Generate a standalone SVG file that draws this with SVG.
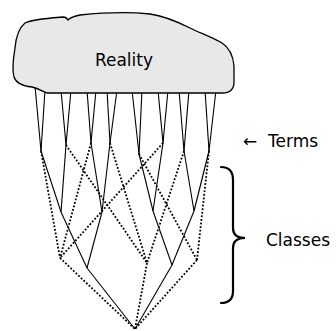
<svg xmlns="http://www.w3.org/2000/svg" width="336" height="331" viewBox="0 0 336 331">
<style>
.s{stroke:#000;stroke-width:1.1;fill:none}
.d{stroke:#000;stroke-width:1.8;fill:none;stroke-dasharray:1.8 1.8}
.t{font-family:"DejaVu Sans",Verdana,sans-serif;font-size:17px;fill:#000}
.cloud{fill:#e8e8e8;stroke:#000;stroke-width:1.3}
.brace{fill:none;stroke:#000;stroke-width:2.2;stroke-linecap:round}
</style>
<g id="connectors">
<g id="term-lines" class="s">
<line x1="35" y1="86" x2="41" y2="151"/><line x1="45" y1="90" x2="41" y2="151"/>
<line x1="61" y1="90" x2="66" y2="145"/><line x1="71" y1="90" x2="66" y2="145"/>
<line x1="87" y1="90" x2="91" y2="143"/><line x1="96" y1="90" x2="91" y2="143"/>
<line x1="107" y1="90" x2="110" y2="143"/><line x1="117" y1="90" x2="110" y2="143"/>
<line x1="132" y1="90" x2="139" y2="154"/><line x1="142" y1="90" x2="139" y2="154"/>
<line x1="158" y1="90" x2="163" y2="143"/><line x1="168" y1="90" x2="163" y2="143"/>
<line x1="179" y1="90" x2="184" y2="151"/><line x1="189" y1="90" x2="184" y2="151"/>
<line x1="205" y1="90" x2="209" y2="151"/><line x1="216" y1="90" x2="209" y2="151"/>
</g>
<g id="solid-tree" class="s">
<line x1="41" y1="151" x2="61" y2="212"/><line x1="66" y1="145" x2="61" y2="212"/>
<line x1="91" y1="143" x2="102" y2="212"/><line x1="110" y1="143" x2="102" y2="212"/>
<line x1="61" y1="212" x2="87" y2="268"/><line x1="102" y1="212" x2="87" y2="268"/>
<line x1="87" y1="268" x2="135" y2="329"/>
<line x1="139" y1="154" x2="153" y2="211"/><line x1="163" y1="143" x2="153" y2="211"/>
<line x1="184" y1="151" x2="194" y2="211"/><line x1="209" y1="151" x2="194" y2="211"/>
<line x1="153" y1="211" x2="172" y2="265"/><line x1="194" y1="211" x2="172" y2="265"/>
<line x1="172" y1="265" x2="135" y2="329"/>
</g>
<g id="dotted-tree" class="d">
<line x1="41" y1="151" x2="60" y2="258"/><line x1="91" y1="143" x2="60" y2="258"/><line x1="163" y1="143" x2="60" y2="258"/>
<line x1="66" y1="145" x2="147" y2="263"/><line x1="110" y1="143" x2="147" y2="263"/><line x1="184" y1="151" x2="147" y2="263"/>
<line x1="139" y1="154" x2="197" y2="260"/><line x1="209" y1="151" x2="197" y2="260"/>
<line x1="60" y1="258" x2="135" y2="329"/><line x1="147" y1="263" x2="135" y2="329"/><line x1="197" y1="260" x2="135" y2="329"/>
</g>
</g>
<g id="reality">
<path class="cloud" d="M47,93 L222,93 C230,93 234,89 234,82 L234,66 C233,55 230,48 222,43 C212,37 200,33 190,28 C178,22 165,16 150,14 C130,12 100,13 80,15 C75,16 71,17 68,20 C67,18 66,17 63,17 C50,18 33,19 25,23 C19,28 16,36 15,48 C13,60 12,70 14,77 C16,83 22,86 32,87 C40,89 43,92 47,93 Z"/>
<text class="t" x="124" y="66" text-anchor="middle">Reality</text>
</g>
<g id="terms-label">
<text class="t" x="243" y="147">← <tspan x="268">Terms</tspan></text>
</g>
<g id="classes-label">
<path class="brace" d="M221,167 Q233,167 233,180 L233,228 Q233,238 245,238 Q233,238 233,248 L233,291 Q233,303 221,303"/>
<text class="t" x="266" y="246">Classes</text>
</g>
</svg>
